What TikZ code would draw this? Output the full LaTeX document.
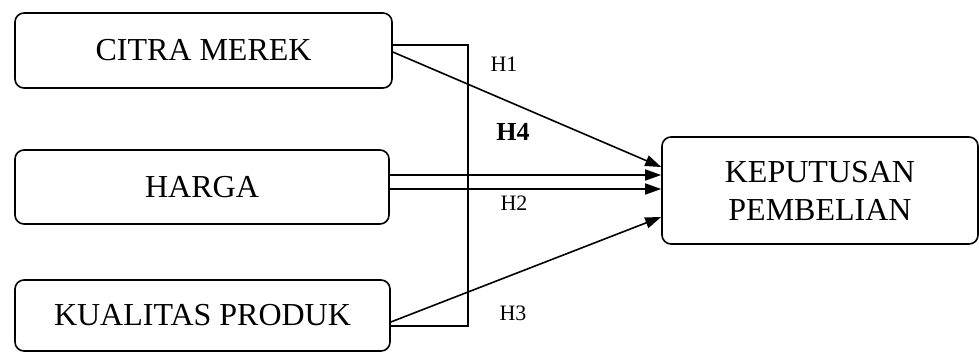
\documentclass[tikz,border=0pt]{standalone}
\usepackage{fontspec}
\setmainfont{Liberation Serif}
\usetikzlibrary{arrows.meta,calc}
\begin{document}
\begin{tikzpicture}[x=1pt,y=-1pt,
  boxnode/.style={draw,line width=1.6pt,rounded corners=9pt,inner sep=0pt,font=\fontsize{32}{38}\selectfont,align=center},
  link/.style={line width=1.6pt},
  arr/.style={line width=1.6pt,-{Triangle[length=16pt,width=11pt]}},
  hlab/.style={font=\fontsize{22}{26}\selectfont,inner sep=0pt}]
\useasboundingbox (0,0) rectangle (979,354);
\node[boxnode,minimum width=377pt,minimum height=75pt] (cm) at (203.5,50.5) {CITRA MEREK};
\node[boxnode,minimum width=374pt,minimum height=74pt] (hg) at (202,187) {HARGA};
\node[boxnode,minimum width=375pt,minimum height=71pt] (kp) at (202.5,315.5) {KUALITAS PRODUK};
\node[boxnode,minimum width=316pt,minimum height=107pt] (kb) at (820,190.5) {KEPUTUSAN\\PEMBELIAN};
% bracket
\coordinate (bt) at (468,45);
\coordinate (bb) at (468,326);
\draw[link] ($(cm.east)+(0,-5.5)$) -- (bt) -- (bb) -- ($(kp.east)+(0,10.5)$);
% arrows
\draw[arr] ($(cm.east)+(0,1.5)$) -- ($(kb.west)+(0,-23.5)$);
\draw[arr] ($(hg.east)+(0,-12)$) -- ($(kb.west)+(0,-15.5)$);
\draw[arr] ($(hg.east)+(0,2)$) -- ($(kb.west)+(0,-1.5)$);
\draw[arr] ($(kp.east)+(0,6.5)$) -- ($(kb.west)+(0,26.5)$);
% labels
\node[hlab] (h1) at (504,64) {H1};
\node[hlab,font=\fontsize{26}{30}\selectfont\bfseries] (h4) at (513,132) {H4};
\node[hlab] (h2) at (514,203) {H2};
\node[hlab] (h3) at (513,313) {H3};
\end{tikzpicture}
\end{document}
